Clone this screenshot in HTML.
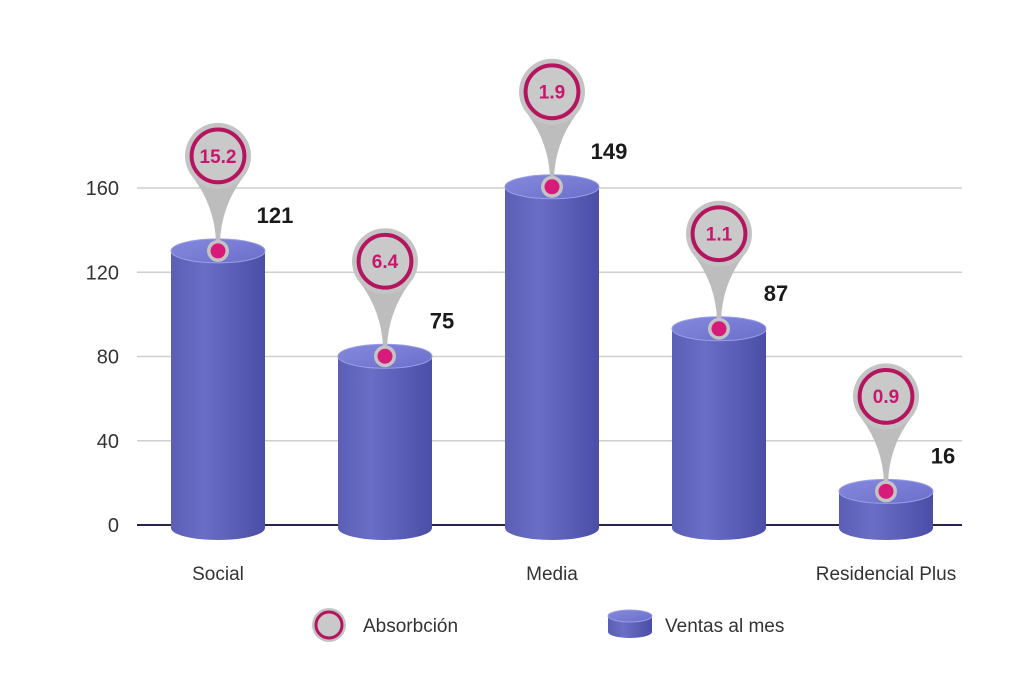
<!DOCTYPE html>
<html><head><meta charset="utf-8"><style>
body{margin:0;background:#fff;}
svg text{font-family:"Liberation Sans",sans-serif;}
</style></head><body>
<svg id="c" width="1024" height="685" viewBox="0 0 1024 685">
<defs>
<linearGradient id="body" x1="0" x2="1" y1="0" y2="0">
<stop offset="0" stop-color="#5a5eb4"/><stop offset="0.35" stop-color="#6a6ec6"/><stop offset="1" stop-color="#4a4ea6"/>
</linearGradient>
<linearGradient id="top" x1="0" x2="1" y1="0" y2="1">
<stop offset="0" stop-color="#8589dc"/><stop offset="1" stop-color="#6b6fcb"/>
</linearGradient>
</defs>
<g id="grid"></g><g id="bars"></g><g id="legend"></g>
</svg>
<script>
const categories=["Social","","Media","","Residencial Plus"];
const ventas=[121,75,149,87,16];
const absorcion=["15.2","6.4","1.9","1.1","0.9"];
const yTicks=[0,40,80,120,160];
const NS="http://www.w3.org/2000/svg";
function mk(t,a,p){const e=document.createElementNS(NS,t);for(const k in a)e.setAttribute(k,a[k]);p.appendChild(e);return e;}
const y=v=>525-v*2.106;
const yc=v=>528-v*2.29;
const x=i=>218+i*167;
const grid=document.getElementById('grid');
yTicks.forEach(t=>{
 const l=mk('line',{x1:137,x2:962,y1:y(t),y2:y(t),stroke:t===0?'#2a2350':'#cfcfcf','stroke-width':t===0?2:1.5},grid);
 
 const tx=mk('text',{x:119,y:y(t)+7,'text-anchor':'end','font-size':20,fill:'#333'},grid);tx.textContent=t;
 
});
const bars=document.getElementById('bars');
function cyl(g,cx,top,bot,rx,ry){
 mk('path',{d:`M${cx-rx},${top} L${cx-rx},${bot} A${rx},${ry} 0 0 0 ${cx+rx},${bot} L${cx+rx},${top} Z`,fill:'url(#body)'},g);
 mk('ellipse',{cx:cx,cy:top,rx:rx,ry:ry,fill:'url(#top)',stroke:'#9a9de6','stroke-width':1},g);
}
function pin(g,cx,cy,dotY,r,label,fs){
 mk('path',{d:`M${cx-r*0.75},${cy+r*0.66} Q${cx-3},${cy+r+18} ${cx-2},${dotY-8} L${cx+2},${dotY-8} Q${cx+3},${cy+r+18} ${cx+r*0.75},${cy+r*0.66} Z`,fill:'#bdbdbd'},g);
 mk('circle',{cx:cx,cy:cy,r:r,fill:'#c4c4c4'},g);
 mk('circle',{cx:cx,cy:cy,r:r*0.8,fill:'#c9c9c9',stroke:'#b3165f','stroke-width':4},g);
 mk('circle',{cx:cx,cy:dotY,r:11,fill:'#c4c4c4'},g);
 mk('circle',{cx:cx,cy:dotY,r:7.5,fill:'#d81b7a'},g);
 if(label){const t=mk('text',{x:cx,y:cy+fs*0.36,'text-anchor':'middle','font-size':fs,'font-weight':'bold',fill:'#c8176c'},g);t.textContent=label;}
}
ventas.forEach((v,i)=>{
 const g=mk('g',{},bars);
 
 const cx=x(i),top=yc(v);
 cyl(g,cx,top,528,47,12);
 pin(g,cx,top-95,top,33,absorcion[i],19);
 const vt=mk('text',{x:cx+57,y:top-28,'text-anchor':'middle','font-size':22,'font-weight':'bold',fill:'#1a1a1a'},g);vt.textContent=v;
 
 if(categories[i]){const c=mk('text',{x:cx,y:580,'text-anchor':'middle','font-size':19,fill:'#333'},g);c.textContent=categories[i];
 }
});
const lg=document.getElementById('legend');
const l1=mk('g',{},lg);
mk('circle',{cx:329,cy:625,r:17,fill:'#c4c4c4'},l1);
mk('circle',{cx:329,cy:625,r:13,fill:'#c9c9c9',stroke:'#b3165f','stroke-width':3},l1);
let t=mk('text',{x:363,y:632,'font-size':19,fill:'#333'},l1);t.textContent='Absorbción';
const l2=mk('g',{},lg);
cyl(l2,630,616,632,22,6);
t=mk('text',{x:665,y:632,'font-size':19,fill:'#333'},l2);t.textContent='Ventas al mes';
</script>
</body></html>
